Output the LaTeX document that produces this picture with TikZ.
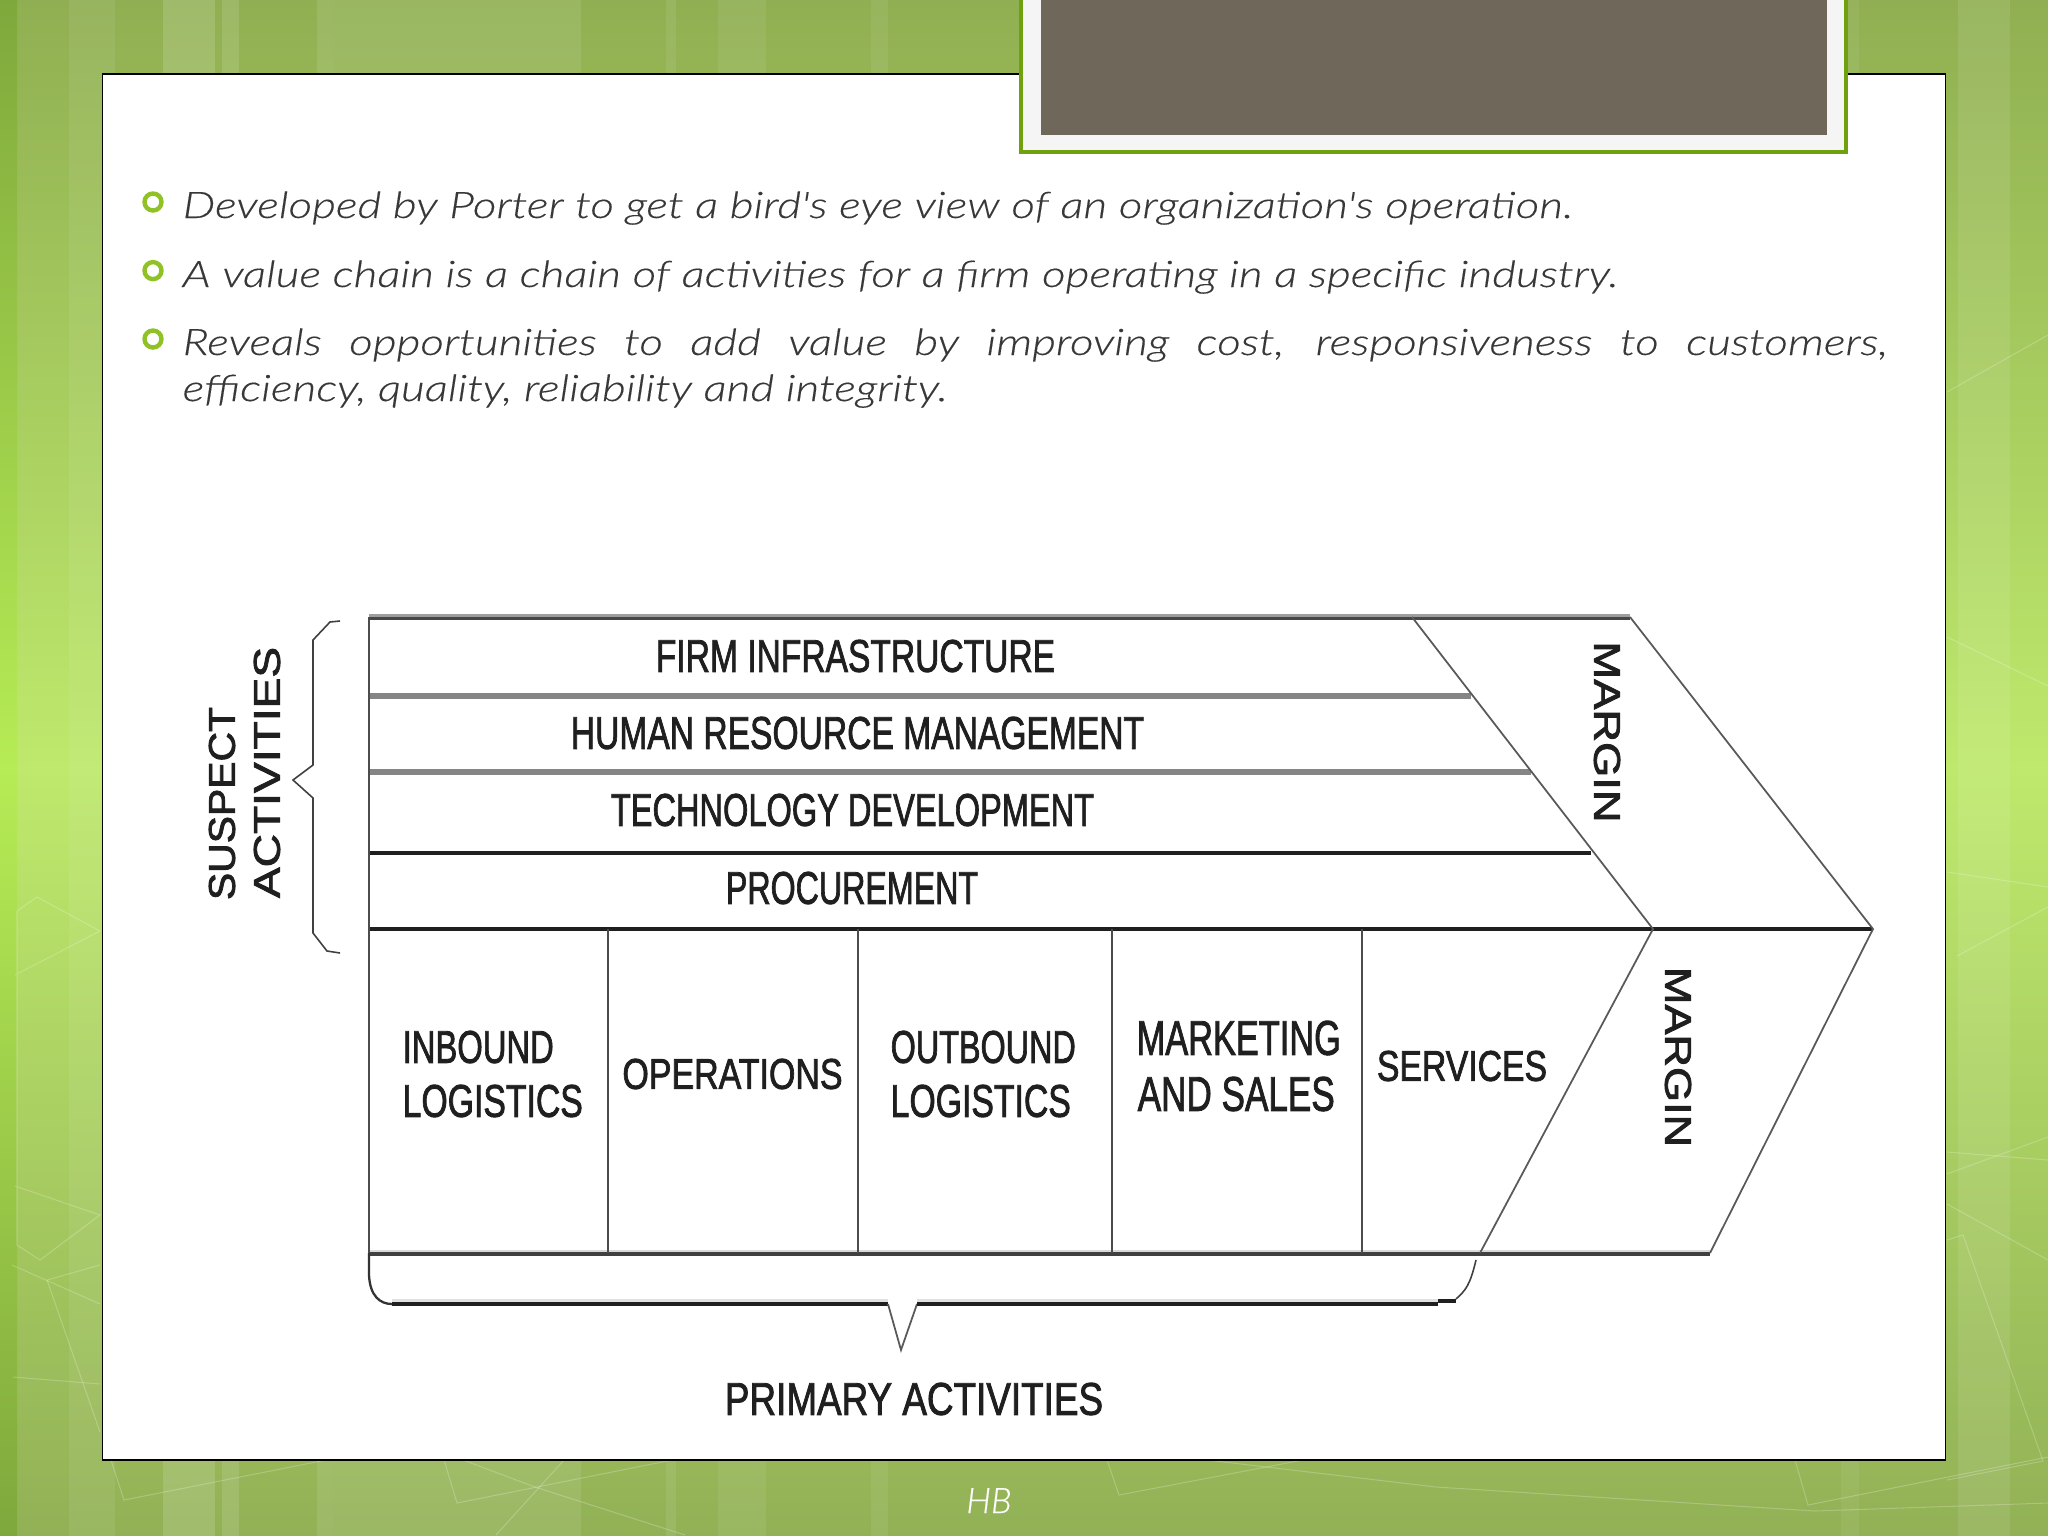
\documentclass[tikz,border=0pt]{standalone}
\usepackage{fontspec}
\setmainfont{Liberation Sans}
\newfontfamily\bodyfont{Lato Light Italic}[FakeStretch=1.26,FakeBold=.3]
\newfontfamily\footfont{Lato Light Italic}[FakeBold=.4]
\newfontfamily\boxfont{Liberation Sans}[FakeBold=2]
\definecolor{bgtop}{HTML}{90AF52}
\definecolor{bgmid}{HTML}{BEE96C}
\definecolor{bgbot}{HTML}{92B156}
\definecolor{edgetop}{HTML}{7FA83C}
\definecolor{edgemid}{HTML}{B6EC55}
\definecolor{leaf}{HTML}{90C226}
\definecolor{leafdark}{HTML}{6FA10F}
\definecolor{titlefill}{HTML}{70675B}
\definecolor{bodytext}{HTML}{383838}
\newcommand{\fitlab}[3]{\resizebox{#1cm}{#2cm}{\boxfont #3}}
\tikzset{
  bullet/.style={circle,draw=leaf,line width=1.25pt,minimum size=.17cm,inner sep=0pt},
  bodyline/.style={anchor=base west,inner sep=0pt,text=bodytext,font=\bodyfont\fontsize{10.4pt}{13.1pt}\selectfont},
  boxlabel/.style={inner sep=0pt,text=black!88},
  heavy/.style={line width=.95pt,draw=black!88},
  band/.style={line width=1.9pt,draw=black!48},
  divider/.style={line width=.65pt,draw=black!70},
  slant/.style={line width=.5pt,draw=black!65},
  brace/.style={line width=.45pt,draw=black!75},
  streak/.style={line width=.3pt,draw=white,opacity=.22}
}
\begin{document}
\begin{tikzpicture}[x=.01cm,y=-.01cm]
  \useasboundingbox (0,0) rectangle (2048,1536);
  % background
  \shade[top color=bgtop,bottom color=bgbot,middle color=bgmid] (0,0) rectangle (2048,1536);
  \foreach \xa/\xb/\op in {69/115/.07,163/215/.14,222/239/.12,317/333/.1,333/581/.09,
    666/676/.08,718/766/.07,871/888/.07,1841/1859/.06,1958/2010/.09}
    \fill[white,opacity=\op] (\xa,0) rectangle (\xb,1536);
  \shade[top color=edgetop,bottom color=edgetop,middle color=edgemid] (0,0) rectangle (17,1536);
  \draw[streak] (111,1460) -- (124,1500) -- (326,1460);
  \draw[streak] (444,1460) -- (457,1503) -- (672,1460);
  \draw[streak] (463,1460) -- (535,1487) -- (685,1535);
  \draw[streak] (564,1460) -- (496,1535);
  \draw[streak] (1107,1460) -- (1119,1495) -- (1303,1460);
  \draw[streak] (1207,1460) -- (1436,1487) -- (1815,1511) -- (2048,1503);
  \draw[streak] (1795,1460) -- (1808,1505) -- (2048,1457);
  \draw[streak] (15,1186) -- (100,1215) -- (40,1260) -- (17,1245) -- (17,911) -- (37,897) -- (100,931) -- (15,975);
  \draw[streak] (12,1265) -- (100,1304);
  \draw[streak] (47,1280) -- (100,1432);
  \draw[streak] (47,1280) -- (100,1265);
  \draw[streak] (13,1377) -- (100,1384);
  \draw[streak] (1947,392) -- (2048,335);
  \draw[streak] (1947,637) -- (2048,686);
  \draw[streak] (1947,872) -- (2048,887);
  \draw[streak] (1957,956) -- (2048,907);
  \draw[streak] (1947,1174) -- (2048,1137);
  \draw[streak] (1947,1152) -- (2048,1160);
  \draw[streak] (1947,1204) -- (2048,1260);
  \draw[streak] (1947,1240) -- (1963,1235) -- (2043,1461) -- (1947,1480);
  % panel and title box
  \draw[fill=white,draw=black,line width=.5pt] (102.5,74) rectangle (1945.5,1460);
  \draw[fill=black!4,draw=leafdark,line width=.9pt] (1021,-5) rectangle (1846,152);
  \fill[titlefill] (1041,-5) rectangle (1827,135);
  % bullets
  \node[bullet] (dot1) at (153,202) {};
  \node[bullet] (dot2) at (153,270.6) {};
  \node[bullet] (dot3) at (153,339) {};
  \node[bodyline] (line1) at (182,218) {Developed by Porter to get a bird's eye view of an organization's operation.};
  \node[bodyline] (line2) at (182,287) {A value chain is a chain of activities for a firm operating in a specific industry.};
  \node[bodyline,text width=17.04cm,align=justify] (line3) at (182,355)
    {Reveals opportunities to add value by improving cost, responsiveness to customers,\linebreak efficiency, quality, reliability and integrity.};
  % chain corners
  \coordinate (topleft) at (369,617);
  \coordinate (topmid) at (1412,617);
  \coordinate (topright) at (1630,617);
  \coordinate (bandb) at (369,696);
  \coordinate (bandbr) at (1471,696);
  \coordinate (bandc) at (369,772);
  \coordinate (bandcr) at (1531,772);
  \coordinate (bandd) at (369,853);
  \coordinate (banddr) at (1591,853);
  \coordinate (midleft) at (369,929);
  \coordinate (midin) at (1653,929);
  \coordinate (tip) at (1873,929);
  \coordinate (botleft) at (369,1253);
  \coordinate (botin) at (1480,1253);
  \coordinate (botright) at (1710,1253);
  % horizontal bands
  \draw[band,draw=black!38] (topleft) -- (topright);
  \draw[heavy,draw=black!72] ([yshift=-.35pt]topleft) -- ([yshift=-.35pt]topright);
  \draw[band] (bandb) -- (bandbr);
  \draw[band] (bandc) -- (bandcr);
  \draw[heavy] (bandd) -- (banddr);
  \draw[heavy] (midleft) -- (tip);
  \draw[band,draw=black!15] (botleft) -- (botright);
  \draw[heavy,draw=black!75] ([yshift=-.3pt]botleft) -- ([yshift=-.3pt]botright);
  \draw[divider] (topleft) -- (botleft);
  % primary columns
  \foreach \cx/\cname in {608/a,858/b,1112/c,1362/d}{
    \coordinate (col\cname t) at (\cx,929);
    \coordinate (col\cname b) at (\cx,1253);
    \draw[divider] (col\cname t) -- (col\cname b);
  }
  % chevron edges
  \draw[slant] (topmid) -- (midin) -- (botin);
  \draw[slant] (topright) -- (tip) -- (botright);
  % left brace
  \coordinate (lb1) at (340,621);
  \coordinate (lb2) at (313,640);
  \coordinate (lb3) at (313,765);
  \coordinate (lb4) at (293,780);
  \coordinate (lb5) at (313,798);
  \coordinate (lb6) at (313,933);
  \coordinate (lb7) at (340,953);
  \draw[brace] (lb1) -- ++(-10,1) -- (lb2) -- (lb3) -- (lb4) -- (lb5) -- (lb6) -- ++(14,18) -- (lb7);
  % bottom brace
  \coordinate (bb1) at (369,1253);
  \coordinate (bb2) at (392,1304);
  \coordinate (bb3) at (888,1304);
  \coordinate (bb4) at (901,1350);
  \coordinate (bb5) at (917,1304);
  \coordinate (bb6) at (1438,1304);
  \coordinate (bb7) at (1476,1260);
  \draw[band,draw=black!12] ([yshift=.4pt]bb2) -- ([yshift=.4pt]bb3);
  \draw[band,draw=black!12] ([yshift=.4pt]bb5) -- ([yshift=.4pt]bb6);
  \draw[divider,draw=black!80] (bb1) -- ++(0,22) .. controls (370,1296) and (380,1304) .. (bb2);
  \draw[heavy] (bb2) -- (bb3);
  \draw[slant] (bb3) -- (bb4) -- (bb5);
  \draw[heavy] (bb5) -- (bb6);
  \draw[heavy] (1438,1301) -- (1456,1301);
  \draw[brace] (1456,1299) .. controls (1466,1290) and (1470,1285) .. (bb7);
  % labels
  \node[boxlabel] (firm) at (855.5,656) {\fitlab{3.99}{.32}{FIRM INFRASTRUCTURE}};
  \node[boxlabel] (human) at (857.5,733) {\fitlab{5.73}{.32}{HUMAN RESOURCE MANAGEMENT}};
  \node[boxlabel] (tech) at (852.5,810) {\fitlab{4.83}{.32}{TECHNOLOGY DEVELOPMENT}};
  \node[boxlabel] (proc) at (852,888) {\fitlab{2.52}{.32}{PROCUREMENT}};
  \node[boxlabel,anchor=west] (inb) at (402,1047) {\fitlab{1.51}{.32}{INBOUND}};
  \node[boxlabel,anchor=west] (inlog) at (402,1101) {\fitlab{1.80}{.32}{LOGISTICS}};
  \node[boxlabel] (ops) at (732.5,1074) {\fitlab{2.20}{.3}{OPERATIONS}};
  \node[boxlabel,anchor=west] (outb) at (890,1047) {\fitlab{1.85}{.32}{OUTBOUND}};
  \node[boxlabel,anchor=west] (outlog) at (890,1101) {\fitlab{1.80}{.32}{LOGISTICS}};
  \node[boxlabel,anchor=west] (mark) at (1136,1038) {\fitlab{2.04}{.34}{MARKETING}};
  \node[boxlabel,anchor=west] (sales) at (1137,1094) {\fitlab{1.97}{.34}{AND SALES}};
  \node[boxlabel] (serv) at (1462,1066) {\fitlab{1.70}{.3}{SERVICES}};
  \node[boxlabel] (prim) at (914,1399) {\fitlab{3.78}{.32}{PRIMARY ACTIVITIES}};
  \node[boxlabel,rotate=-90] (margina) at (1607,732) {\fitlab{1.81}{.26}{MARGIN}};
  \node[boxlabel,rotate=-90] (marginb) at (1678,1057) {\fitlab{1.80}{.26}{MARGIN}};
  \node[boxlabel,rotate=90] (susp) at (222,803.5) {\fitlab{1.93}{.26}{SUSPECT}};
  \node[boxlabel,rotate=90] (acti) at (267,772.5) {\fitlab{2.51}{.26}{ACTIVITIES}};
  \node[anchor=base,inner sep=0pt,text=white,font=\footfont\fontsize{10pt}{12pt}\selectfont] (foot) at (989,1513) {HB};
\end{tikzpicture}
\end{document}
